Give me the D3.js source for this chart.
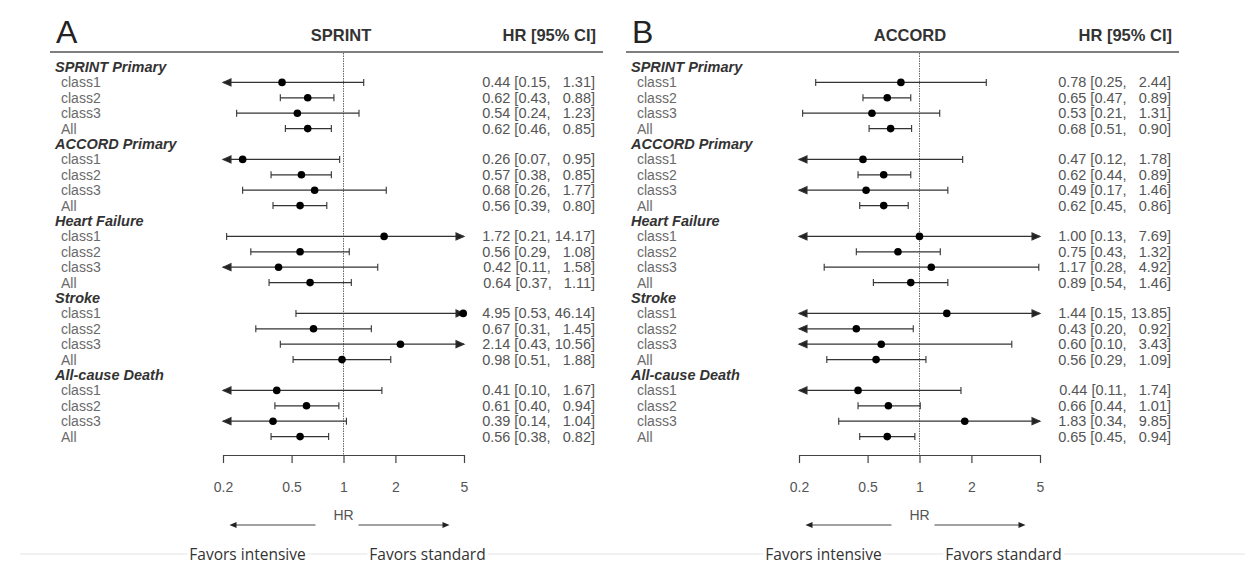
<!DOCTYPE html>
<html>
<head>
<meta charset="utf-8">
<script src="https://cdn.jsdelivr.net/npm/d3@7"></script>
<style>
  body { margin: 0; background: #fff; }
  svg { display: block; font-family: "Liberation Sans", Arial, sans-serif; }
</style>
</head>
<body>
<div class="svg-container"></div>
<script>
const widthSVG = 1254;
const heightSVG = 565;

// outcome groups and rows inside each group
const groups = ['SPRINT Primary', 'ACCORD Primary', 'Heart Failure', 'Stroke', 'All-cause Death'];
const subgroups = ['class1', 'class2', 'class3', 'All'];
const tickValues = [0.2, 0.5, 1, 2, 5];

// panel A: SPRINT
const sprintHR = [0.44, 0.62, 0.54, 0.62, 0.26, 0.57, 0.68, 0.56, 1.72, 0.56, 0.42, 0.64, 4.95, 0.67, 2.14, 0.98, 0.41, 0.61, 0.39, 0.56];
const sprintLo = [0.15, 0.43, 0.24, 0.46, 0.07, 0.38, 0.26, 0.39, 0.21, 0.29, 0.11, 0.37, 0.53, 0.31, 0.43, 0.51, 0.10, 0.40, 0.14, 0.38];
const sprintHi = [1.31, 0.88, 1.23, 0.85, 0.95, 0.85, 1.77, 0.80, 14.17, 1.08, 1.58, 1.11, 46.14, 1.45, 10.56, 1.88, 1.67, 0.94, 1.04, 0.82];

// panel B: ACCORD
const accordHR = [0.78, 0.65, 0.53, 0.68, 0.47, 0.62, 0.49, 0.62, 1.00, 0.75, 1.17, 0.89, 1.44, 0.43, 0.60, 0.56, 0.44, 0.66, 1.83, 0.65];
const accordLo = [0.25, 0.47, 0.21, 0.51, 0.12, 0.44, 0.17, 0.45, 0.13, 0.43, 0.28, 0.54, 0.15, 0.20, 0.10, 0.29, 0.11, 0.44, 0.34, 0.45];
const accordHi = [2.44, 0.89, 1.31, 0.90, 1.78, 0.89, 1.46, 0.86, 7.69, 1.32, 4.92, 1.46, 13.85, 0.92, 3.43, 1.09, 1.74, 1.01, 9.85, 0.94];

const panels = [
  { letter: 'A', title: 'SPRINT', dx: 0, titleX: 341, hr: sprintHR, lo: sprintLo, hi: sprintHi },
  { letter: 'B', title: 'ACCORD', dx: 576, titleX: 910, hr: accordHR, lo: accordLo, hi: accordHi }
];

const rowY0 = 67;
const rowStep = 15.4;
const axisY = 455;

const svg = d3.select('.svg-container')
  .append('svg')
  .attr('width', widthSVG)
  .attr('height', heightSVG);

svg.append('rect').attr('width', widthSVG).attr('height', heightSVG).attr('fill', '#fff');

// faint separator line at the bottom
svg.append('line')
  .attr('x1', 20).attr('x2', 1245)
  .attr('y1', 554).attr('y2', 554)
  .attr('stroke', '#e4e4e4').attr('stroke-width', 1);

const fmt = d => d.toFixed(2);
const pad = s => s.length < 5 ? '  ' + s : s;

function drawPanel(p) {
  const g = svg.append('g').attr('transform', `translate(${p.dx},0)`);
  const x = d3.scaleLog().domain([0.2, 5]).range([223, 464]);

  g.append('text')
    .attr('x', 56).attr('y', 43)
    .attr('font-size', 32)
    .attr('fill', '#222')
    .text(p.letter);

  g.append('text')
    .attr('x', p.titleX - p.dx).attr('y', 41)
    .attr('text-anchor', 'middle')
    .attr('font-size', 16.5).attr('font-weight', 'bold')
    .attr('fill', '#333')
    .text(p.title);

  g.append('text')
    .attr('x', 596).attr('y', 41)
    .attr('text-anchor', 'end')
    .attr('font-size', 16.5).attr('font-weight', 'bold')
    .attr('fill', '#333')
    .text('HR [95% CI]');

  g.append('line')
    .attr('x1', 50).attr('x2', 603)
    .attr('y1', 52).attr('y2', 52)
    .attr('stroke', '#555').attr('stroke-width', 1.5);

  // reference line at HR = 1
  g.append('line')
    .attr('x1', x(1)).attr('x2', x(1))
    .attr('y1', 53).attr('y2', axisY)
    .attr('stroke', '#666').attr('stroke-width', 1)
    .attr('stroke-dasharray', '1.5,1');

  // rows
  const rows = [];
  groups.forEach((grp, gi) => {
    rows.push({ label: grp, header: true, idx: gi * 5 });
    subgroups.forEach((s, si) => {
      const k = gi * 4 + si;
      rows.push({ label: s, header: false, idx: gi * 5 + si + 1, hr: p.hr[k], lo: p.lo[k], hi: p.hi[k] });
    });
  });
  const y = r => rowY0 + r.idx * rowStep;

  g.selectAll('text.label')
    .data(rows)
    .enter().append('text')
    .attr('class', 'label')
    .attr('x', d => d.header ? 55 : 61)
    .attr('y', d => y(d) + 5)
    .attr('font-size', d => d.header ? 14.5 : 14)
    .attr('font-weight', d => d.header ? 'bold' : 'normal')
    .attr('font-style', d => d.header ? 'italic' : 'normal')
    .attr('fill', d => d.header ? '#333' : '#6a6a6a')
    .text(d => d.label);

  const est = rows.filter(d => !d.header);

  const ci = g.selectAll('g.ci')
    .data(est)
    .enter().append('g')
    .attr('class', 'ci')
    .attr('transform', d => `translate(0,${y(d)})`);

  ci.append('line')
    .attr('x1', d => x(Math.max(d.lo, 0.2)))
    .attr('x2', d => x(Math.min(d.hi, 5)))
    .attr('stroke', '#333').attr('stroke-width', 1.2);

  // left ends: arrow if clipped, otherwise cap
  ci.append('path')
    .attr('d', d => {
      const xl = x(Math.max(d.lo, 0.2));
      return d.lo <= 0.2 ? `M${xl},0 L${xl + 8},-3.5 L${xl + 8},3.5 Z` : `M${xl},-3.5 L${xl},3.5`;
    })
    .attr('fill', '#222').attr('stroke', '#333').attr('stroke-width', 1.1);

  ci.append('path')
    .attr('d', d => {
      const xr = x(Math.min(d.hi, 5));
      return d.hi > 5 ? `M${xr},0 L${xr - 8},-3.5 L${xr - 8},3.5 Z` : `M${xr},-3.5 L${xr},3.5`;
    })
    .attr('fill', '#222').attr('stroke', '#333').attr('stroke-width', 1.1);

  ci.append('circle')
    .attr('cx', d => x(d.hr))
    .attr('r', 3.8)
    .attr('fill', '#000');

  g.selectAll('text.value')
    .data(est)
    .enter().append('text')
    .attr('class', 'value')
    .attr('x', 595)
    .attr('y', d => y(d) + 5)
    .attr('text-anchor', 'end')
    .attr('font-size', 14.5)
    .attr('fill', '#555')
    .style('white-space', 'pre')
    .text(d => `${fmt(d.hr)} [${fmt(d.lo)}, ${pad(fmt(d.hi))}]`);

  // axis
  const axis = d3.axisBottom(x)
    .tickValues(tickValues)
    .tickFormat(d => String(d))
    .tickSize(8)
    .tickSizeOuter(0)
    .tickPadding(19);

  const ax = g.append('g')
    .attr('transform', `translate(0,${axisY})`)
    .call(axis);
  ax.attr('font-family', null);
  ax.select('.domain').attr('stroke', '#444').attr('stroke-width', 1.2);
  ax.selectAll('.tick line').attr('stroke', '#444').attr('stroke-width', 1.2);
  ax.selectAll('.tick text')
    .attr('font-size', 14)
    .attr('fill', '#555');

  g.append('text')
    .attr('x', x(1)).attr('y', 520)
    .attr('text-anchor', 'middle')
    .attr('font-size', 14)
    .attr('fill', '#555')
    .text('HR');

  // direction arrows
  const ax1 = x(1);
  g.append('line')
    .attr('x1', ax1 - 28).attr('x2', ax1 - 108)
    .attr('y1', 525).attr('y2', 525)
    .attr('stroke', '#444').attr('stroke-width', 1);
  g.append('path')
    .attr('d', `M${ax1 - 114},525 L${ax1 - 107},522 L${ax1 - 107},528 Z`)
    .attr('fill', '#222');
  g.append('line')
    .attr('x1', ax1 + 15).attr('x2', ax1 + 100)
    .attr('y1', 525).attr('y2', 525)
    .attr('stroke', '#444').attr('stroke-width', 1);
  g.append('path')
    .attr('d', `M${ax1 + 106},525 L${ax1 + 99},522 L${ax1 + 99},528 Z`)
    .attr('fill', '#222');

  const fav = [
    { t: 'Favors intensive', x: ax1 - 96 },
    { t: 'Favors standard', x: ax1 + 84 }
  ];
  fav.forEach(f => {
    const t = g.append('text')
      .attr('x', f.x).attr('y', 560)
      .attr('text-anchor', 'middle')
      .style('font-family', '"Open Sans", sans-serif')
      .attr('font-size', 15.5)
      .attr('fill', '#333')
      .text(f.t);
    const b = t.node().getBBox();
    g.insert('rect', 'text')
      .attr('x', b.x - 2).attr('y', b.y)
      .attr('width', b.width + 4).attr('height', b.height)
      .attr('fill', '#fff');
  });
}

panels.forEach(drawPanel);
</script>
</body>
</html>
